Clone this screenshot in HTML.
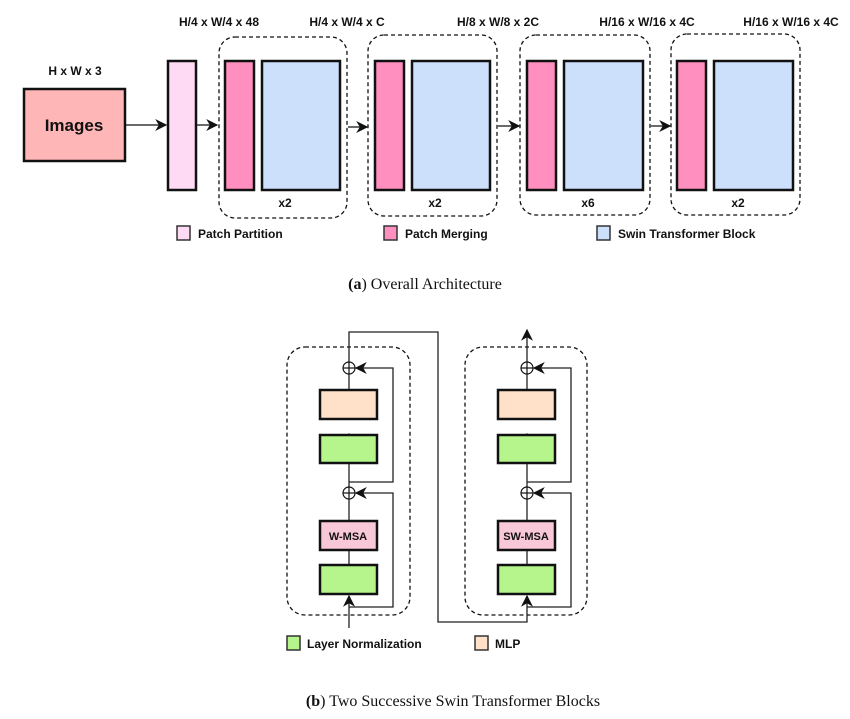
<!DOCTYPE html>
<html><head><meta charset="utf-8"><style>
html,body{margin:0;padding:0;background:#fff;}
svg{display:block;}
.b{font-family:"Liberation Sans",sans-serif;font-weight:bold;font-size:12px;fill:#111;}
.s{font-family:"Liberation Serif",serif;font-size:16px;fill:#111;}
</style></head><body>
<svg width="850" height="719" viewBox="0 0 850 719" xmlns="http://www.w3.org/2000/svg">
<defs>
<marker id="ar" viewBox="0 0 10 10" refX="9" refY="5" markerWidth="12" markerHeight="12" orient="auto" markerUnits="userSpaceOnUse">
<path d="M0,0 L10,5 L0,10 L3,5 z" fill="#111"/></marker>
</defs>
<text class="b" x="75" y="75" text-anchor="middle">H x W x 3</text>
<text class="b" x="219" y="26" text-anchor="middle">H/4 x W/4 x 48</text>
<text class="b" x="347" y="26" text-anchor="middle">H/4 x W/4 x C</text>
<text class="b" x="498" y="26" text-anchor="middle">H/8 x W/8 x 2C</text>
<text class="b" x="647" y="26" text-anchor="middle">H/16 x W/16 x 4C</text>
<text class="b" x="791" y="26" text-anchor="middle">H/16 x W/16 x 4C</text>
<rect x="24" y="89" width="101" height="72" fill="#ffb6b6" stroke="#111" stroke-width="2.5"/>
<text class="b" x="74" y="131" text-anchor="middle" style="font-size:17px">Images</text>
<line x1="126" y1="125" x2="166" y2="125" stroke="#111" stroke-width="1.3" marker-end="url(#ar)"/>
<rect x="168" y="61" width="28" height="129" fill="#ffdaf5" stroke="#111" stroke-width="2.5"/>
<line x1="197" y1="125" x2="217" y2="125" stroke="#111" stroke-width="1.3" marker-end="url(#ar)"/>
<g fill="none" stroke="#111" stroke-width="1.3" stroke-dasharray="4,3">
<rect x="219" y="37" width="128" height="181" rx="16"/>
<rect x="368" y="35" width="129" height="181" rx="16"/>
<rect x="520" y="35" width="130" height="180" rx="16"/>
<rect x="671" y="34" width="129" height="181" rx="16"/>
</g>
<g stroke="#111" stroke-width="2.5">
<rect x="225" y="61" width="29" height="129" fill="#ff8fbf"/>
<rect x="262" y="61" width="78" height="129" fill="#cce0fb"/>
<rect x="375" y="61" width="29" height="129" fill="#ff8fbf"/>
<rect x="412" y="61" width="78" height="129" fill="#cce0fb"/>
<rect x="527" y="61" width="29" height="129" fill="#ff8fbf"/>
<rect x="564" y="61" width="79" height="129" fill="#cce0fb"/>
<rect x="677" y="61" width="29" height="129" fill="#ff8fbf"/>
<rect x="714" y="61" width="79" height="129" fill="#cce0fb"/>
</g>
<g stroke="#111" stroke-width="1.3">
<line x1="348" y1="127" x2="367" y2="127" marker-end="url(#ar)"/>
<line x1="498" y1="126" x2="519" y2="126" marker-end="url(#ar)"/>
<line x1="651" y1="126" x2="670" y2="126" marker-end="url(#ar)"/>
</g>
<text class="b" x="285" y="207" text-anchor="middle">x2</text>
<text class="b" x="435" y="207" text-anchor="middle">x2</text>
<text class="b" x="588" y="207" text-anchor="middle">x6</text>
<text class="b" x="738" y="207" text-anchor="middle">x2</text>
<rect x="177" y="226" width="13" height="14" fill="#ffdaf5" stroke="#333" stroke-width="1.5"/>
<text class="b" x="198" y="238">Patch Partition</text>
<rect x="384" y="226" width="13" height="14" fill="#ff8fbf" stroke="#333" stroke-width="1.5"/>
<text class="b" x="405" y="238">Patch Merging</text>
<rect x="597" y="226" width="13" height="14" fill="#cce0fb" stroke="#333" stroke-width="1.5"/>
<text class="b" x="618" y="238">Swin Transformer Block</text>
<text class="s" x="425" y="289" text-anchor="middle"><tspan font-weight="bold">(a</tspan>) Overall Architecture</text>
<g fill="none" stroke="#111" stroke-width="1.3" stroke-dasharray="4,3">
<rect x="287" y="347" width="123" height="268" rx="18"/>
<rect x="465" y="347" width="122" height="268" rx="18"/>
</g>
<g fill="none" stroke="#222" stroke-width="1.3">
<line x1="349" y1="628" x2="349" y2="596" marker-end="url(#ar)"/>
<polyline points="349,607 393,607 393,493 356,493" marker-end="url(#ar)"/>
<line x1="349" y1="564" x2="349" y2="499"/>
<line x1="349" y1="487" x2="349" y2="434" marker-end="url(#ar)"/>
<polyline points="349,482 393,482 393,368 356,368" marker-end="url(#ar)"/>
<line x1="349" y1="389" x2="349" y2="374"/>
<polyline points="349,362 349,332 438,332 438,622 527,622 527,596" marker-end="url(#ar)"/>
<polyline points="527,607 571,607 571,493 534,493" marker-end="url(#ar)"/>
<line x1="527" y1="564" x2="527" y2="499"/>
<line x1="527" y1="487" x2="527" y2="434" marker-end="url(#ar)"/>
<polyline points="527,482 571,482 571,368 534,368" marker-end="url(#ar)"/>
<line x1="527" y1="389" x2="527" y2="374"/>
<line x1="527" y1="362" x2="527" y2="330" marker-end="url(#ar)"/>
<g stroke="#111" stroke-width="1.2">
<circle cx="349" cy="368" r="6"/><line x1="343" y1="368" x2="355" y2="368"/><line x1="349" y1="362" x2="349" y2="374"/>
<circle cx="349" cy="493" r="6"/><line x1="343" y1="493" x2="355" y2="493"/><line x1="349" y1="487" x2="349" y2="499"/>
<circle cx="527" cy="368" r="6"/><line x1="521" y1="368" x2="533" y2="368"/><line x1="527" y1="362" x2="527" y2="374"/>
<circle cx="527" cy="493" r="6"/><line x1="521" y1="493" x2="533" y2="493"/><line x1="527" y1="487" x2="527" y2="499"/>
</g>
</g>
<g stroke="#111" stroke-width="2.5">
<rect x="320" y="390" width="57" height="29" fill="#ffe0c8"/>
<rect x="320" y="435" width="57" height="28" fill="#b5f58c"/>
<rect x="320" y="521" width="57" height="29" fill="#f8c8d8"/>
<rect x="320" y="565" width="57" height="29" fill="#b5f58c"/>
<rect x="498" y="390" width="57" height="29" fill="#ffe0c8"/>
<rect x="498" y="435" width="57" height="28" fill="#b5f58c"/>
<rect x="498" y="521" width="57" height="29" fill="#f8c8d8"/>
<rect x="498" y="565" width="57" height="29" fill="#b5f58c"/>
</g>
<text class="b" x="348" y="540" text-anchor="middle" style="font-size:11px">W-MSA</text>
<text class="b" x="526" y="540" text-anchor="middle" style="font-size:11px">SW-MSA</text>
<rect x="287" y="636" width="13" height="14" fill="#b5f58c" stroke="#333" stroke-width="1.5"/>
<text class="b" x="307" y="648">Layer Normalization</text>
<rect x="475" y="636" width="13" height="14" fill="#ffe0c8" stroke="#333" stroke-width="1.5"/>
<text class="b" x="495" y="648">MLP</text>
<text class="s" x="453" y="706" text-anchor="middle"><tspan font-weight="bold">(b</tspan>) Two Successive Swin Transformer Blocks</text>
</svg>
</body></html>
